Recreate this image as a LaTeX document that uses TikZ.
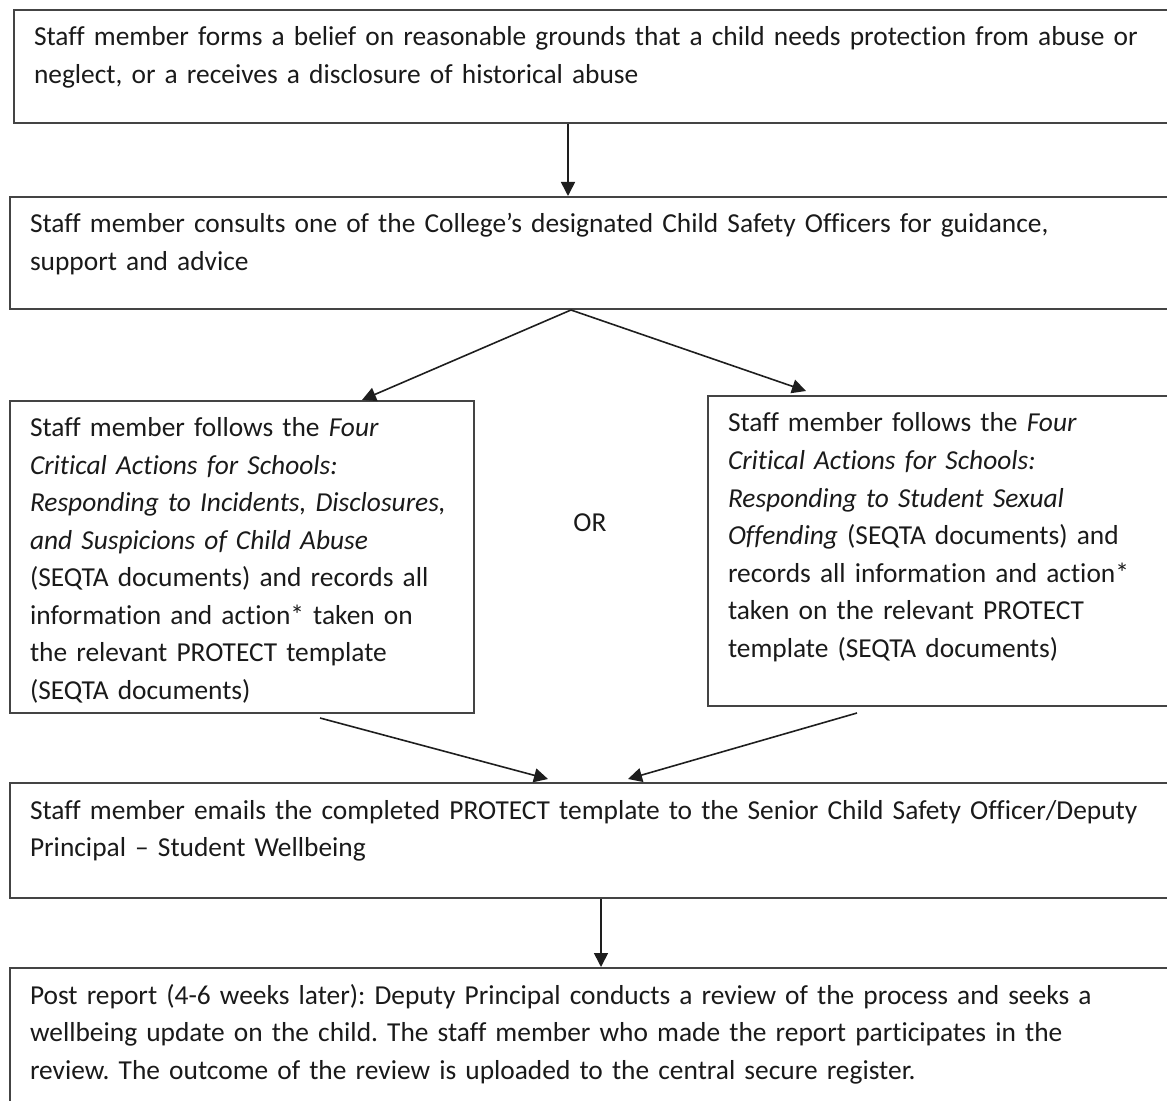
\documentclass[tikz,border=0pt]{standalone}
\usepackage{fontspec}
\setmainfont{Carlito}[RawFeature={-liga;-clig;-dlig;-calt}]
\usetikzlibrary{arrows.meta}
\definecolor{boxline}{HTML}{444444}
\definecolor{flowline}{HTML}{1E1E1E}
\definecolor{steptextcol}{HTML}{1A1A1A}
\newcommand{\steplines}[1]{\begin{tabular}[t]{@{}l@{}}#1\end{tabular}}
\frenchspacing

\begin{document}
\begin{tikzpicture}[
  x=0.5pt,
  y=-0.5pt,
  stepbox/.style={draw=boxline,line width=1pt,anchor=north west,align=left,
    inner xsep=10pt,inner ysep=4.875pt,text height=13.125pt,text=steptextcol,
    font=\fontsize{13.7}{18.75}\selectfont},
  flow/.style={draw=flowline,line width=0.8pt,-{Triangle[length=7pt,width=7pt]}}
]
  \useasboundingbox (0,0) rectangle (1167,1101);

  % Steps of the reporting process.
  \node[stepbox,text width=563.5pt,text depth=33.625pt] (belief) at (13,9)
    {\steplines{Staff member forms a belief on reasonable grounds that a child needs protection from abuse or\\
    neglect, or a receives a disclosure of historical abuse}};
  \node[stepbox,text width=565.5pt,text depth=33.125pt] (consult) at (9,196)
    {\steplines{Staff member consults one of the College’s designated Child Safety Officers for guidance,\\
    support and advice}};
  \node[stepbox,text width=212pt,text depth=133.125pt] (fourcrit) at (9,400)
    {\steplines{Staff member follows the \textit{Four}\\
    \textit{Critical Actions for Schools:}\\
    \textit{Responding to Incidents, Disclosures,}\\
    \textit{and Suspicions of Child Abuse}\\
    (SEQTA documents) and records all\\
    information and action* taken on\\
    the relevant PROTECT template\\
    (SEQTA documents)}};
  \node[stepbox,text width=216.5pt,text depth=132.125pt] (offend) at (707,395)
    {\steplines{Staff member follows the \textit{Four}\\
    \textit{Critical Actions for Schools:}\\
    \textit{Responding to Student Sexual}\\
    \textit{Offending} (SEQTA documents) and\\
    records all information and action*\\
    taken on the relevant PROTECT\\
    template (SEQTA documents)}};
  \node[text=steptextcol,font=\fontsize{13.7}{18.75}\selectfont] (or) at (590,523) {OR};
  \node[stepbox,text width=565.5pt,text depth=34.625pt] (email) at (9,782)
    {\steplines{Staff member emails the completed PROTECT template to the Senior Child Safety Officer/Deputy\\
    Principal – Student Wellbeing}};
  \node[stepbox,text width=565.5pt,text depth=48.625pt] (review) at (9,967)
    {\steplines{Post report (4-6 weeks later): Deputy Principal conducts a review of the process and seeks a\\
    wellbeing update on the child. The staff member who made the report participates in the\\
    review. The outcome of the review is uploaded to the central secure register.}};

  % Where the connectors leave and meet the boxes.
  \coordinate (downA) at (568,0);
  \coordinate (fanout) at (571,0);
  \coordinate (fanL) at (362,0);
  \coordinate (fanR) at (806,0);
  \coordinate (joinL) at (320,0);
  \coordinate (joinR) at (857,0);
  \coordinate (meetL) at (548,0);
  \coordinate (meetR) at (628,0);
  \coordinate (downB) at (601,0);

  \draw[flow] (belief.south -| downA) -- (consult.north -| downA);
  \draw[flow] (consult.south -| fanout) -- (fourcrit.north -| fanL);
  \draw[flow] (consult.south -| fanout) -- ([yshift=2pt]offend.north -| fanR);
  \draw[flow] ([yshift=-2pt]fourcrit.south -| joinL) -- ([yshift=1.5pt]email.north -| meetL);
  \draw[flow] ([yshift=-3pt]offend.south -| joinR) -- ([yshift=1.5pt]email.north -| meetR);
  \draw[flow] (email.south -| downB) -- (review.north -| downB);
\end{tikzpicture}
\end{document}
